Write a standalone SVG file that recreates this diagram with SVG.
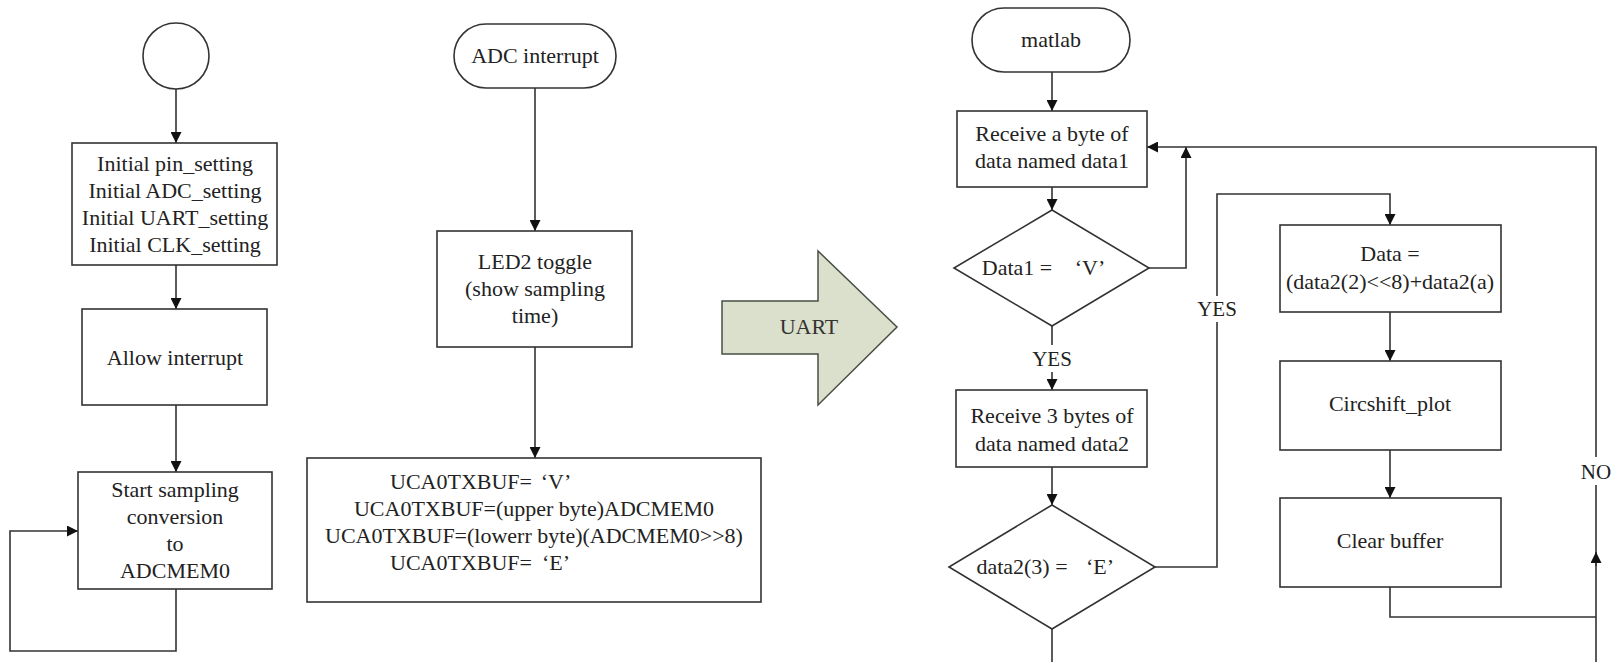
<svg xmlns="http://www.w3.org/2000/svg" width="1617" height="662" viewBox="0 0 1617 662">
<defs>
<marker id="ah" viewBox="0 0 10 10" refX="10" refY="5" markerWidth="11" markerHeight="11" markerUnits="userSpaceOnUse" orient="auto">
<path d="M0,0 L10,5 L0,10 z" fill="#111"/>
</marker>
</defs>
<style>
.n{fill:#fff;stroke:#333;stroke-width:1.6}
.c{fill:none;stroke:#333;stroke-width:1.6}
text{font-family:"Liberation Serif","Times New Roman",serif;font-size:22px;fill:#222;text-anchor:middle}
.lbl{font-size:21px}
</style>
<rect width="1617" height="662" fill="#fff"/>
<g id="connectors">
<line class="c" x1="176" y1="89" x2="176" y2="143" marker-end="url(#ah)"/>
<line class="c" x1="176" y1="265" x2="176" y2="309" marker-end="url(#ah)"/>
<line class="c" x1="176" y1="405" x2="176" y2="472" marker-end="url(#ah)"/>
<polyline class="c" points="176,589 176,651 10,651 10,531 78,531" marker-end="url(#ah)"/>
<line class="c" x1="535" y1="88" x2="535" y2="231" marker-end="url(#ah)"/>
<line class="c" x1="535" y1="347" x2="535" y2="458" marker-end="url(#ah)"/>
<line class="c" x1="1052" y1="72" x2="1052" y2="111" marker-end="url(#ah)"/>
<line class="c" x1="1052" y1="187" x2="1052" y2="210" marker-end="url(#ah)"/>
<polyline class="c" points="1149,268 1186,268 1186,147" marker-end="url(#ah)"/>
<polyline class="c" points="1052,326 1052,345"/>
<line class="c" x1="1052" y1="372" x2="1052" y2="390" marker-end="url(#ah)"/>
<line class="c" x1="1052" y1="467" x2="1052" y2="505" marker-end="url(#ah)"/>
<line class="c" x1="1052" y1="629" x2="1052" y2="662"/>
<polyline class="c" points="1155,567 1217,567 1217,322"/>
<polyline class="c" points="1217,296 1217,194 1390,194 1390,225" marker-end="url(#ah)"/>
<line class="c" x1="1390" y1="312" x2="1390" y2="361" marker-end="url(#ah)"/>
<line class="c" x1="1390" y1="450" x2="1390" y2="498" marker-end="url(#ah)"/>
<polyline class="c" points="1390,587 1390,617 1596,617"/>
<line class="c" x1="1596" y1="662" x2="1596" y2="485"/>
<line class="c" x1="1596" y1="566" x2="1596" y2="552" marker-end="url(#ah)"/>
<polyline class="c" points="1596,457 1596,147 1147,147" marker-end="url(#ah)"/>
<text class="lbl" x="1052" y="366">YES</text>
<text class="lbl" x="1217" y="316">YES</text>
<text class="lbl" x="1596" y="479">NO</text>
</g>
<g id="start">
<circle class="n" cx="176" cy="56" r="33"/>
</g>
<g id="init">
<rect class="n" x="72" y="143" width="205" height="122"/>
<text x="175" y="171">Initial pin_setting</text>
<text x="175" y="198">Initial ADC_setting</text>
<text x="175" y="225">Initial UART_setting</text>
<text x="175" y="252">Initial CLK_setting</text>
</g>
<g id="allow">
<rect class="n" x="82" y="309" width="185" height="96"/>
<text x="175" y="365">Allow interrupt</text>
</g>
<g id="sampling">
<rect class="n" x="78" y="472" width="194" height="117"/>
<text x="175" y="497">Start sampling</text>
<text x="175" y="524">conversion</text>
<text x="175" y="551">to</text>
<text x="175" y="578">ADCMEM0</text>
</g>
<g id="adcint">
<rect class="n" x="454" y="24" width="162" height="64" rx="32" ry="32"/>
<text x="535" y="63">ADC interrupt</text>
</g>
<g id="led">
<rect class="n" x="437" y="231" width="195" height="116"/>
<text x="535" y="269">LED2 toggle</text>
<text x="535" y="296">(show sampling</text>
<text x="535" y="323">time)</text>
</g>
<g id="tx">
<rect class="n" x="307" y="458" width="454" height="144"/>
<text x="461" y="489">UCA0TXBUF=</text><text x="556" y="489">‘V’</text>
<text x="534" y="516">UCA0TXBUF=(upper byte)ADCMEM0</text>
<text x="534" y="543">UCA0TXBUF=(lowerr byte)(ADCMEM0&gt;&gt;8)</text>
<text x="461" y="570">UCA0TXBUF=</text><text x="556" y="570">‘E’</text>
</g>
<g id="uart">
<polygon points="722,301 818,301 818,251 897,327 818,405 818,354 722,354" fill="#dae0cb" stroke="#4a4f44" stroke-width="1.5"/>
<text x="809" y="334" style="fill:#333">UART</text>
</g>
<g id="matlab">
<rect class="n" x="972" y="8" width="158" height="64" rx="32" ry="32"/>
<text x="1051" y="47">matlab</text>
</g>
<g id="recv1">
<rect class="n" x="957" y="111" width="190" height="76"/>
<text x="1052" y="141">Receive a byte of</text>
<text x="1052" y="168">data named data1</text>
</g>
<g id="dec1">
<polygon class="n" points="1052,210 1149,268 1052,326 954,268"/>
<text x="1017" y="275">Data1 =</text><text x="1090" y="275">‘V’</text>
</g>
<g id="recv3">
<rect class="n" x="956" y="390" width="191" height="77"/>
<text x="1052" y="423">Receive 3 bytes of</text>
<text x="1052" y="451">data named data2</text>
</g>
<g id="dec2">
<polygon class="n" points="1052,505 1155,567 1052,629 949,567"/>
<text x="1022" y="574">data2(3) =</text><text x="1100" y="574">‘E’</text>
</g>
<g id="data">
<rect class="n" x="1280" y="225" width="221" height="87"/>
<text x="1390" y="261">Data =</text>
<text x="1390" y="289">(data2(2)&lt;&lt;8)+data2(a)</text>
</g>
<g id="circ">
<rect class="n" x="1280" y="361" width="221" height="89"/>
<text x="1390" y="411">Circshift_plot</text>
</g>
<g id="clear">
<rect class="n" x="1280" y="498" width="221" height="89"/>
<text x="1390" y="548">Clear buffer</text>
</g>
</svg>
